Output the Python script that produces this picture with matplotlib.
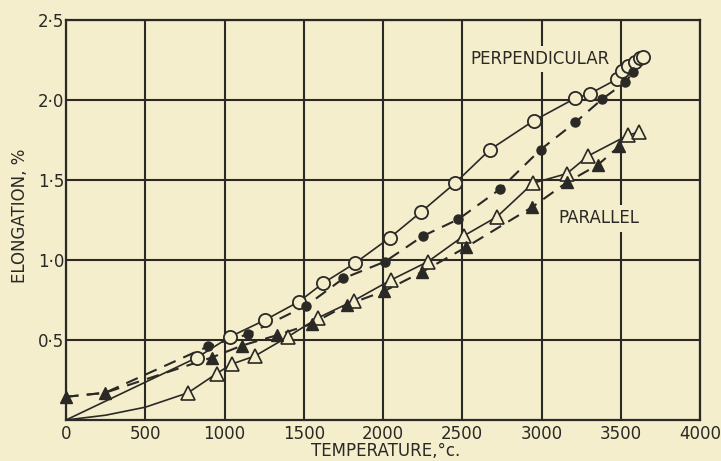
import matplotlib
matplotlib.use("Agg")
import matplotlib.pyplot as plt

# ---- data ----
# Perpendicular, heating (open circles, solid line)
perp_heat_T = [826, 1035, 1256, 1470, 1622, 1823, 2044, 2240, 2454, 2675, 2950, 3211, 3306, 3476, 3508, 3546, 3590, 3621, 3640]
perp_heat_E = [0.39, 0.52, 0.625, 0.74, 0.855, 0.98, 1.14, 1.30, 1.48, 1.69, 1.87, 2.01, 2.04, 2.13, 2.18, 2.21, 2.24, 2.26, 2.27]
# Perpendicular, cooling (filled circles, dashed line)
perp_cool_T = [896, 1146, 1517, 1750, 2013, 2252, 2476, 2741, 2994, 3213, 3382, 3527, 3580]
perp_cool_E = [0.46, 0.535, 0.715, 0.885, 0.99, 1.15, 1.255, 1.445, 1.69, 1.86, 2.005, 2.11, 2.175]
# Parallel, heating (open triangles, solid line)
par_heat_T = [770, 950, 1047, 1192, 1400, 1593, 1814, 2050, 2284, 2508, 2719, 2946, 3160, 3293, 3545, 3615]
par_heat_E = [0.17, 0.29, 0.35, 0.40, 0.52, 0.64, 0.745, 0.875, 0.99, 1.15, 1.27, 1.48, 1.54, 1.65, 1.78, 1.80]
# Parallel, cooling (filled triangles, dashed line)
par_cool_T = [0, 246, 918, 1110, 1331, 1549, 1773, 2006, 2246, 2524, 2940, 3160, 3356, 3490]
par_cool_E = [0.145, 0.17, 0.39, 0.465, 0.53, 0.60, 0.72, 0.805, 0.925, 1.08, 1.33, 1.485, 1.595, 1.71]

# start of the drawn curves (no markers there)
perp_heat_start_T = [0]
perp_heat_start_E = [0.0]
par_heat_start_T = [0, 250, 500]
par_heat_start_E = [0.0, 0.03, 0.08]
perp_cool_start_T = [0, 246]
perp_cool_start_E = [0.145, 0.17]

x_ticks = [0, 500, 1000, 1500, 2000, 2500, 3000, 3500, 4000]
x_labels = ["0", "500", "1000", "1500", "2000", "2500", "3000", "3500", "4000"]
y_ticks = [0.5, 1.0, 1.5, 2.0, 2.5]
y_labels = ["0\u00b75", "1\u00b70", "1\u00b75", "2\u00b70", "2\u00b75"]

bg = "#f4eecc"
ink = "#2a2925"

plt.rcParams["font.family"] = ["DejaVu Sans"]

fig = plt.figure(figsize=(7.21, 4.61), dpi=100, facecolor=bg)
ax = fig.add_axes([66/721, 41/461, 634/721, 400/461])
ax.set_facecolor(bg)

ax.set_xlim(0, 4000)
ax.set_ylim(0, 2.5)
ax.set_xticks(x_ticks)
ax.set_xticklabels(x_labels)
ax.set_yticks(y_ticks)
ax.set_yticklabels(y_labels)
ax.tick_params(axis="both", length=0, labelsize=12, colors=ink)
ax.tick_params(axis="x", pad=3.5)
ax.tick_params(axis="y", pad=1)
ax.grid(True, color=ink, linewidth=1.5, zorder=0)
ax.set_axisbelow(True)
for s in ax.spines.values():
    s.set_color(ink)
    s.set_linewidth(1.6)

lw = 1.2
dash = (0, (6, 4))

# lines
ax.plot(perp_heat_start_T + perp_heat_T, perp_heat_start_E + perp_heat_E,
        color=ink, lw=lw, zorder=2)
ax.plot(par_heat_start_T + par_heat_T, par_heat_start_E + par_heat_E,
        color=ink, lw=lw, zorder=2)
ax.plot(perp_cool_start_T + perp_cool_T, perp_cool_start_E + perp_cool_E,
        color=ink, lw=lw + 0.3, linestyle=dash, zorder=2)
ax.plot(par_cool_T, par_cool_E, color=ink, lw=lw + 0.3, linestyle=dash, zorder=2)

# markers
ax.plot(perp_heat_T, perp_heat_E, linestyle="none", marker="o", ms=9.5,
        mfc=bg, mec=ink, mew=1.3, zorder=4, clip_on=False)
ax.plot(perp_cool_T, perp_cool_E, linestyle="none", marker="o", ms=6.5,
        mfc=ink, mec=ink, zorder=4, clip_on=False)
ax.plot(par_heat_T, par_heat_E, linestyle="none", marker="^", ms=10,
        mfc=bg, mec=ink, mew=1.2, zorder=3, clip_on=False)
ax.plot(par_cool_T, par_cool_E, linestyle="none", marker="^", ms=9,
        mfc=ink, mec=ink, zorder=3, clip_on=False)

ax.text(2990, 2.256, "PERPENDICULAR", fontsize=12, color=ink, ha="center", va="center",
        zorder=1, bbox=dict(facecolor=bg, edgecolor="none", pad=3))
ax.text(3363, 1.26, "PARALLEL", fontsize=12, color=ink, ha="center", va="center",
        zorder=1, bbox=dict(facecolor=bg, edgecolor="none", pad=3))

ax.set_xlabel("TEMPERATURE,\u00b0c.", fontsize=12, color=ink)
ax.set_ylabel("ELONGATION, %", fontsize=12, color=ink)
ax.xaxis.set_label_coords((386 - 66) / 634, -(442 - 420) / 400)
ax.yaxis.set_label_coords(-(66 - 29) / 634, 0.51)

fig.savefig("out.png", dpi=100, facecolor=bg)
